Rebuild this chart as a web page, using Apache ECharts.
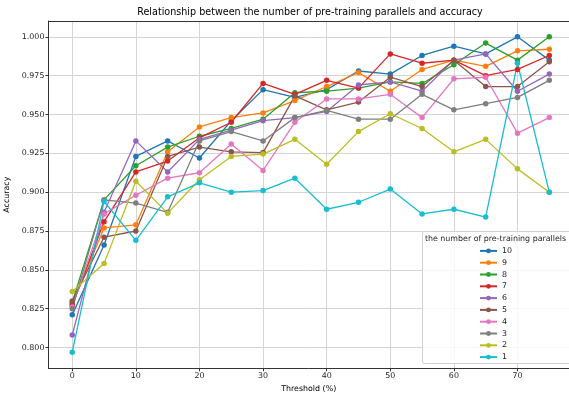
<!DOCTYPE html>
<html>
<head>
<meta charset="utf-8">
<script src="https://cdn.jsdelivr.net/npm/echarts@6/dist/echarts.min.js"></script>
<style>html,body{margin:0;padding:0;background:#fff}#c{width:569px;height:397px}</style>
</head>
<body>
<div id="c"></div>
<script>
const thresholds = [0,5,10,15,20,25,30,35,40,45,50,55,60,65,70,75];
const seriesNames = ['10','9','8','7','6','5','4','3','2','1'];
const s10 = [0.821,0.866,0.923,0.933,0.922,0.946,0.966,0.961,0.966,0.978,0.976,0.988,0.994,0.989,1.000,0.985];
const s9  = [0.828,0.877,0.879,0.926,0.942,0.948,0.951,0.959,0.968,0.977,0.965,0.979,0.985,0.981,0.991,0.992];
const s8  = [0.829,0.895,0.917,0.929,0.936,0.941,0.947,0.964,0.965,0.967,0.971,0.970,0.982,0.996,0.985,1.000];
const s7  = [0.827,0.881,0.913,0.920,0.935,0.945,0.970,0.963,0.972,0.967,0.989,0.983,0.985,0.975,0.979,0.988];
const s6  = [0.808,0.887,0.933,0.913,0.934,0.940,0.946,0.948,0.952,0.969,0.971,0.965,0.985,0.989,0.965,0.976];
const s5  = [0.830,0.871,0.875,0.923,0.929,0.926,0.9255,0.962,0.953,0.958,0.974,0.968,0.985,0.968,0.968,0.984];
const s4  = [0.826,0.886,0.898,0.909,0.9125,0.931,0.914,0.945,0.960,0.960,0.963,0.948,0.973,0.974,0.938,0.948];
const s3  = [0.825,0.895,0.893,0.887,0.933,0.939,0.933,0.948,0.9526,0.947,0.947,0.963,0.953,0.957,0.961,0.972];
const s2  = [0.836,0.854,0.907,0.8865,0.908,0.923,0.9245,0.934,0.918,0.939,0.9505,0.941,0.926,0.934,0.915,0.900];
const s1  = [0.797,0.894,0.869,0.897,0.906,0.900,0.901,0.909,0.889,0.8935,0.902,0.886,0.889,0.884,0.983,0.900];
const xTicks = [0,10,20,30,40,50,60,70];
const yTicks = [0.800,0.825,0.850,0.875,0.900,0.925,0.950,0.975,1.000];

const allData = [s10,s9,s8,s7,s6,s5,s4,s3,s2,s1];
const colors = ['#1f77b4','#ff7f0e','#2ca02c','#d62728','#9467bd','#8c564b','#e377c2','#7f7f7f','#bcbd22','#17becf'];
const FONT = 'DejaVu Sans';

const chart = echarts.init(document.getElementById('c'), null, {renderer:'canvas'});
const series = allData.map((d,i)=>({
  name: seriesNames[i],
  type: 'line',
  data: thresholds.map((x,j)=>[x,d[j]]),
  symbol: 'circle',
  symbolSize: 5.5,
  showSymbol: true,
  lineStyle: {width: 1.3, color: colors[i]},
  itemStyle: {color: colors[i]},
  animation: false,
  z: 2
}));

chart.setOption({
  animation: false,
  backgroundColor: '#fff',
  title: {
    text: 'Relationship between the number of pre-training parallels and accuracy',
    left: 310, top: 7, padding: 0, textAlign: 'center',
    textStyle: {fontFamily: FONT, fontSize: 9.6, fontWeight: 'normal', color: '#000'}
  },
  grid: {left: 48.4, top: 21, right: 0, bottom: 28.7, containLabel: false, outerBoundsMode: 'none'},
  xAxis: [{
    type: 'value', min: -3.75, max: 78.1,
    name: 'Threshold (%)', nameLocation: 'middle', nameGap: 16,
    nameTextStyle: {fontFamily: FONT, fontSize: 7.9, color: '#000'},
    axisLine: {show: true, onZero: false, lineStyle: {color: '#333', width: 1}},
    axisTick: {show: true, length: 3, customValues: xTicks, lineStyle: {color: '#333'}},
    axisLabel: {customValues: xTicks, fontFamily: FONT, fontSize: 7.9, color: '#222', margin: 4},
    splitLine: {show: true, lineStyle: {color: '#d4d4d4', width: 1}}
  },{
    type: 'value', min: -3.75, max: 78.1, position: 'top',
    axisLine: {show: true, onZero: false, lineStyle: {color: '#333', width: 1}},
    axisTick: {show: false}, axisLabel: {show: false}, splitLine: {show: false}
  }],
  yAxis: {
    type: 'value', min: 0.7866, max: 1.0102,
    name: 'Accuracy', nameLocation: 'middle', nameGap: 35, nameRotate: 90,
    nameTextStyle: {fontFamily: FONT, fontSize: 7.9, color: '#000'},
    axisLine: {show: true, onZero: false, lineStyle: {color: '#333', width: 1}},
    axisTick: {show: true, length: 3, customValues: yTicks, lineStyle: {color: '#333'}},
    axisLabel: {customValues: yTicks, fontFamily: FONT, fontSize: 7.9, color: '#222', margin: 4,
      formatter: v => v.toFixed(3)},
    splitLine: {show: true, lineStyle: {color: '#d4d4d4', width: 1}}
  },
  legend: {
    data: seriesNames,
    orient: 'vertical',
    left: 479, top: 245, padding: 0,
    itemWidth: 17, itemHeight: 6, itemGap: 0,
    textStyle: {fontFamily: FONT, fontSize: 7.9, color: '#222', lineHeight: 11.8},
    z: 10
  },
  graphic: [
    {type: 'rect', shape: {x: 422.5, y: 231.5, width: 160, height: 132, r: 2},
     style: {fill: 'rgba(255,255,255,0.8)', stroke: '#d0d0d0', lineWidth: 1}, z: 5},
    {type: 'text', x: 495.5, y: 239, z: 6,
     style: {text: 'the number of pre-training parallels', fontFamily: FONT, fontSize: 7.9,
       fill: '#222', textAlign: 'center', textVerticalAlign: 'middle'}}
  ],
  series: series
});
</script>
</body>
</html>
